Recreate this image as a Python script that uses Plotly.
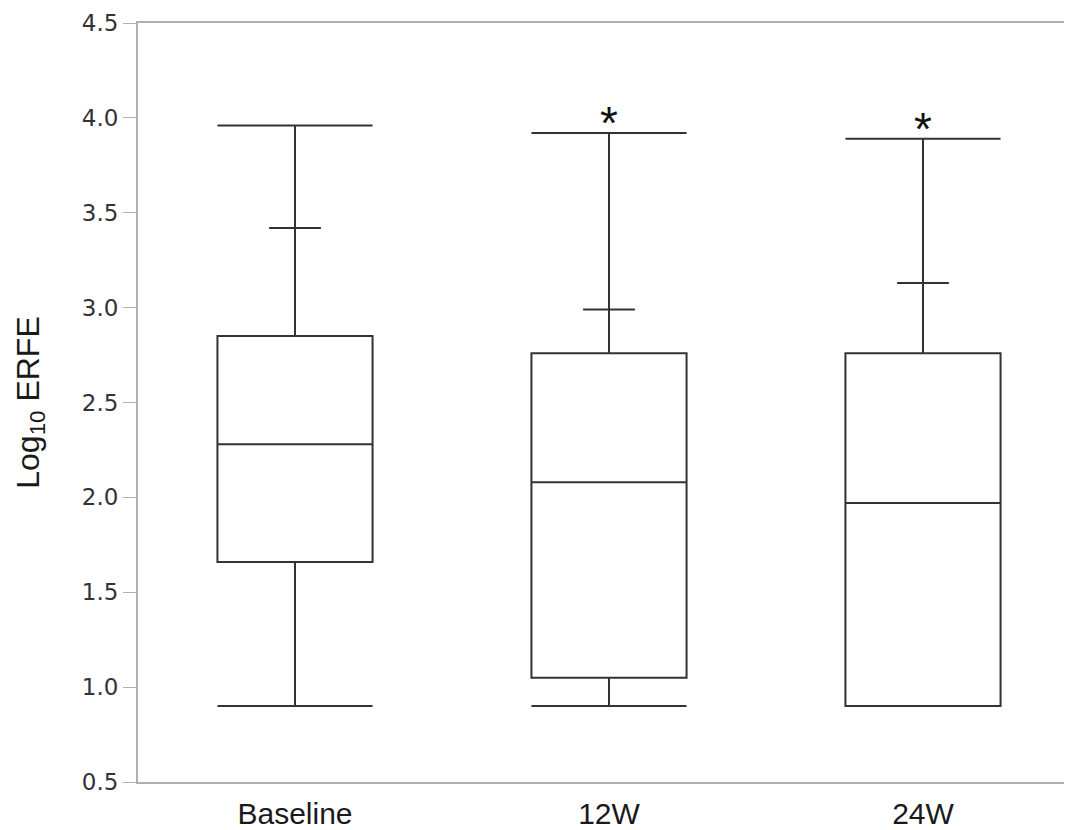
import plotly.graph_objects as go

categories = ["Baseline", "12W", "24W"]
lower_whisker = [0.90, 0.90, 0.90]
q1_vals = [1.66, 1.05, 0.90]
median_vals = [2.28, 2.08, 1.97]
q3_vals = [2.85, 2.76, 2.76]
p90_vals = [3.42, 2.99, 3.13]
upper_whisker = [3.96, 3.92, 3.89]
significant = [False, True, True]
y_ticks = [0.5, 1.0, 1.5, 2.0, 2.5, 3.0, 3.5, 4.0, 4.5]

line_col = "#333333"
fig = go.Figure()
for i, c in enumerate(categories):
    fig.add_trace(go.Box(
        x=[c], q1=[q1_vals[i]], median=[median_vals[i]], q3=[q3_vals[i]],
        lowerfence=[lower_whisker[i]], upperfence=[upper_whisker[i]],
        width=0.494, whiskerwidth=1, boxpoints=False,
        fillcolor="rgba(0,0,0,0)", line=dict(color=line_col, width=2),
        showlegend=False, hoverinfo="skip",
    ))

fig.add_trace(go.Scatter(
    x=categories, y=p90_vals, mode="markers",
    marker=dict(symbol="line-ew", size=37, line=dict(color=line_col, width=2)),
    showlegend=False, hoverinfo="skip",
))

for i, c in enumerate(categories):
    if significant[i]:
        fig.add_annotation(x=c, y=upper_whisker[i], text="*", showarrow=False,
                           yanchor="bottom", yshift=-18,
                           font=dict(family="Liberation Sans, Arial", size=46, color="#111111"))

fig.update_layout(
    width=1072, height=830,
    margin=dict(l=130, r=0, t=15, b=56),
    paper_bgcolor="white", plot_bgcolor="white",
    xaxis=dict(
        type="category", range=[-0.5, 2.5], showgrid=False, zeroline=False,
        showline=True, mirror=True, linecolor="#b0b0b0", linewidth=2,
        ticks="outside", ticklen=4, tickcolor="rgba(0,0,0,0)",
        tickfont=dict(family="Liberation Sans, Arial", size=30, color="#1a1a1a"),
    ),
    yaxis=dict(
        range=[0.5, 4.5], tickvals=y_ticks, ticktext=[f"{v:.1f}" for v in y_ticks],
        showgrid=False, zeroline=False, showline=True, linecolor="#b0b0b0", linewidth=2,
        ticks="outside", ticklen=13, tickcolor="#b0b0b0", tickwidth=1,
        tickfont=dict(family="DejaVu Sans, Verdana", size=23, color="#333333"),
        title=dict(text="Log<sub>10</sub> ERFE", standoff=33,
                   font=dict(family="Liberation Sans, Arial", size=32, color="#1a1a1a")),
    ),
)

fig.write_html("out.html")
